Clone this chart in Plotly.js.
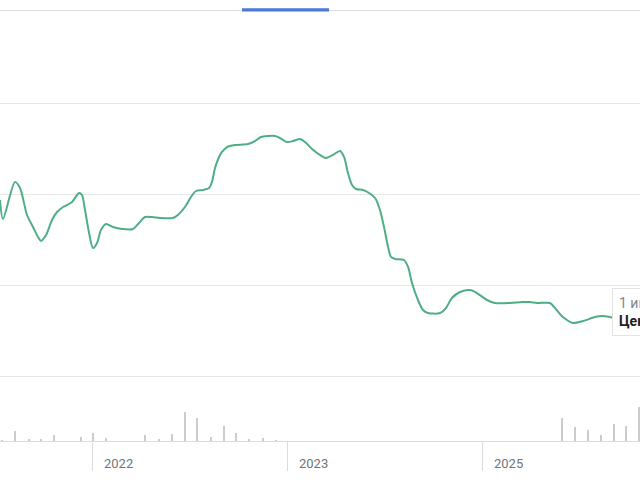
<!DOCTYPE html>
<html>
<head>
<meta charset="utf-8">
<script src="https://cdn.plot.ly/plotly-3.0.1.min.js"></script>
<style>html,body{margin:0;padding:0;background:#fff;}#chart{width:640px;height:480px;}</style>
</head>
<body>
<div id="chart"></div>
<script>
// Price line: month index (0 = Jan 2021, 2024 omitted on the axis) and price
const priceMonths = [6.34,6.52,7.26,7.57,8.00,8.37,8.68,8.86,9.17,9.54,9.85,10.22,10.77,11.20,11.38,11.57,11.82,12.06,12.31,12.55,12.86,13.29,13.85,14.52,14.89,15.26,15.69,16.18,16.98,17.29,17.72,18.09,18.40,18.83,19.20,19.38,19.57,19.82,20.00,20.31,20.80,21.60,22.03,22.40,22.83,23.26,23.57,24.00,24.37,24.80,25.11,25.54,26.03,26.40,26.83,27.26,27.51,27.75,28.00,28.25,28.68,29.05,29.42,29.72,29.97,30.22,30.40,30.65,31.20,31.45,31.69,32.06,32.37,32.68,33.42,33.78,34.15,34.65,35.26,35.69,36.31,36.80,37.72,38.46,38.95,39.38,40.18,40.49,40.98,41.60,42.22,42.95,43.38,43.88,44.12,44.40];
const prices = [293.4,272.5,313.2,306.6,276.9,263.7,252.7,248.4,254.9,271.4,280.2,285.7,291.2,301.1,298.9,282.4,257.1,240.7,246.2,260.4,267.0,263.7,261.5,261.5,268.1,274.7,274.7,273.6,273.6,276.9,285.7,296.7,303.3,304.4,306.6,313.2,328.6,340.7,346.2,351.6,353.8,354.9,358.2,362.6,363.7,363.7,361.5,357.1,358.2,360.4,357.1,349.5,342.9,339.6,342.9,347.3,340.7,323.1,309.9,305.5,304.4,301.1,295.6,282.4,263.7,241.8,230.8,228.6,227.5,219.8,202.2,183.5,172.5,169.2,169.2,174.7,185.7,192.3,194.5,191.2,183.5,180.2,180.2,181.3,181.3,180.2,180.2,174.7,164.8,158.2,160.4,164.8,165.9,164.8,163.7,163.5];

// Volume bars
const volMonths = [6.46,7.26,8.12,8.86,9.66,11.32,12.06,12.86,15.26,16.12,16.92,17.72,18.46,19.32,20.12,20.86,21.66,22.52,23.32,40.92,41.72,42.52,43.32,44.12,44.86,45.66];
const volumes = [1,10,2,2,6,4,8,3,6,2,7,29,23,4,15,8,2,3,1,23,14,11,6,17,15,34];

// Axis ticks
const tickMonths = [12,24,36];
const tickLabels = ['2022','2023','2025'];

// Tooltip text
const tipDate = '1 июл. 2025 г.';
const tipPrice = 'Цена: 163,50 ₽';

const xRange = [6.338, 45.723];
const grey = '#dadce0';

const traces = [
  {
    type: 'scatter', mode: 'lines', x: priceMonths, y: prices,
    xaxis: 'x', yaxis: 'y',
    line: {color: '#4fae86', width: 2, shape: 'spline', smoothing: 0.8},
    hoverinfo: 'skip'
  },
  {
    type: 'bar', x: volMonths, y: volumes, xaxis: 'x2', yaxis: 'y2',
    width: 0.1, marker: {color: '#cccccc', line: {width: 0}},
    hoverinfo: 'skip'
  }
];

const annotations = tickMonths.map((m, i) => ({
  x: m, xref: 'x2', y: (480 - 463.5) / 480, yref: 'paper',
  text: tickLabels[i], showarrow: false, xanchor: 'left', yanchor: 'middle',
  xshift: 10, font: {family: 'Roboto, Arial, sans-serif', size: 13, color: '#70757a'}
}));
annotations.push({
  x: 612 / 640, xref: 'paper', y: (480 - 288) / 480, yref: 'paper',
  xanchor: 'left', yanchor: 'top', align: 'left', showarrow: false,
  text: '<span style="color:#80868b">' + tipDate + '</span><br><b>' + tipPrice + '</b>',
  font: {family: 'Roboto, Arial, sans-serif', size: 14, color: '#202124'},
  bgcolor: '#ffffff', bordercolor: '#e3e3e3', borderwidth: 1, borderpad: 6
});

const layout = {
  width: 640, height: 480,
  margin: {l: 0, r: 0, t: 0, b: 0, pad: 0},
  paper_bgcolor: '#ffffff', plot_bgcolor: '#ffffff',
  showlegend: false,
  xaxis: {
    range: xRange, domain: [0, 1], anchor: 'y', side: 'top',
    showline: true, linecolor: grey, linewidth: 1,
    showgrid: false, zeroline: false, showticklabels: false, ticks: ''
  },
  yaxis: {
    range: [95.6, 501.1], domain: [100 / 480, 469 / 480], anchor: 'x',
    tickvals: [100, 200, 300, 400], showticklabels: false, ticks: '',
    showgrid: true, gridcolor: '#e6e6e6', gridwidth: 1, zeroline: false, showline: false
  },
  xaxis2: {
    range: xRange, domain: [0, 1], anchor: 'y2',
    showline: true, linecolor: grey, linewidth: 1,
    tickvals: tickMonths, ticks: 'outside', ticklen: 29, tickcolor: grey, tickwidth: 1,
    showticklabels: false, showgrid: false, zeroline: false
  },
  yaxis2: {
    range: [0, 61], domain: [39 / 480, 100 / 480], anchor: 'x2',
    showgrid: false, zeroline: false, showticklabels: false, showline: false, ticks: ''
  },
  bargap: 0,
  shapes: [{
    type: 'rect', xref: 'paper', yref: 'paper',
    x0: 242 / 640, x1: 329 / 640, y0: (480 - 11.5) / 480, y1: (480 - 8.3) / 480,
    fillcolor: '#4a78d4', line: {width: 0}, layer: 'above'
  }],
  annotations: annotations
};

Plotly.newPlot('chart', traces, layout, {displayModeBar: false, staticPlot: true});
</script>
</body>
</html>
